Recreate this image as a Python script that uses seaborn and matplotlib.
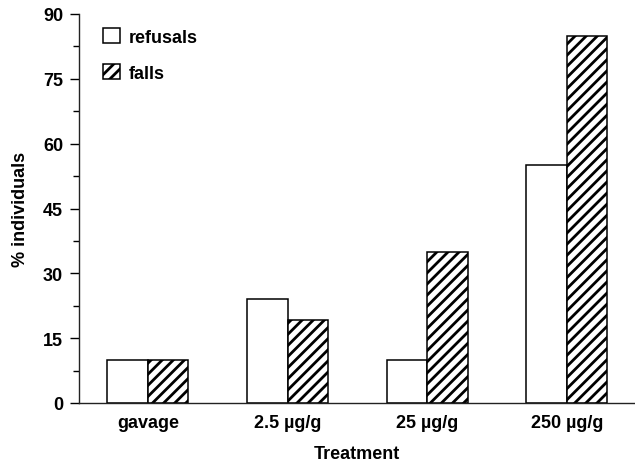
import matplotlib
matplotlib.use("Agg")
import matplotlib.pyplot as plt
import seaborn as sns
import pandas as pd
from matplotlib.ticker import MultipleLocator

categories = ["gavage", "2.5 µg/g", "25 µg/g", "250 µg/g"]
series_names = ["refusals", "falls"]
refusals = [10, 24, 10, 55]
falls = [10, 19.3, 35, 85]
y_ticks = [0, 15, 30, 45, 60, 75, 90]

df = pd.DataFrame({
    "Treatment": categories * 2,
    "value": refusals + falls,
    "series": [series_names[0]] * len(categories) + [series_names[1]] * len(categories),
})

sns.set_style("ticks")
plt.rcParams["font.family"] = ["Liberation Sans", "DejaVu Sans"]
plt.rcParams["font.weight"] = "bold"
plt.rcParams["hatch.linewidth"] = 2.0
plt.rcParams["hatch.color"] = "black"
for k in ["text.color", "axes.labelcolor", "xtick.color", "ytick.color", "axes.edgecolor"]:
    plt.rcParams[k] = "black"

fig = plt.figure(figsize=(6.35, 4.64), dpi=100)
ax = fig.add_axes([79 / 635, 60 / 464, 555 / 635, 389 / 464])

sns.barplot(data=df, x="Treatment", y="value", hue="series", order=categories,
            hue_order=series_names, palette=["white", "white"], width=0.58,
            edgecolor="black", linewidth=1.1, saturation=1, ax=ax, legend=False)

for patch in ax.containers[1].patches:
    patch.set_hatch("///")

fs = 13
ax.set_xlim(-0.494, 3.48)
ax.set_ylim(0, 90)
ax.set_yticks(y_ticks)
ax.yaxis.set_minor_locator(MultipleLocator(7.5))
ax.tick_params(axis="y", which="major", length=6.5, width=1, pad=5, labelsize=fs, direction="out")
ax.tick_params(axis="y", which="minor", length=4.5, width=1, direction="out")
ax.tick_params(axis="x", which="both", length=0, pad=8, labelsize=fs)
for lab in ax.get_xticklabels() + ax.get_yticklabels():
    lab.set_fontweight("bold")

for s in ["top", "right"]:
    ax.spines[s].set_visible(False)
for s in ["left", "bottom"]:
    ax.spines[s].set_linewidth(1.0)
    ax.spines[s].set_color("#222222")

ax.set_xlabel("Treatment", fontsize=fs, fontweight="bold", labelpad=10)
ax.set_ylabel("% individuals", fontsize=fs, fontweight="bold", labelpad=10)

handles = [ax.containers[0].patches[0], ax.containers[1].patches[0]]
leg = ax.legend(handles, series_names, loc="upper left", bbox_to_anchor=(0.043, 0.965),
                frameon=False, fontsize=fs, handlelength=0.95, handleheight=0.95,
                handletextpad=0.5, labelspacing=1.0, borderpad=0, borderaxespad=0)
for t in leg.get_texts():
    t.set_fontweight("bold")

fig.savefig("out.png", dpi=100)
